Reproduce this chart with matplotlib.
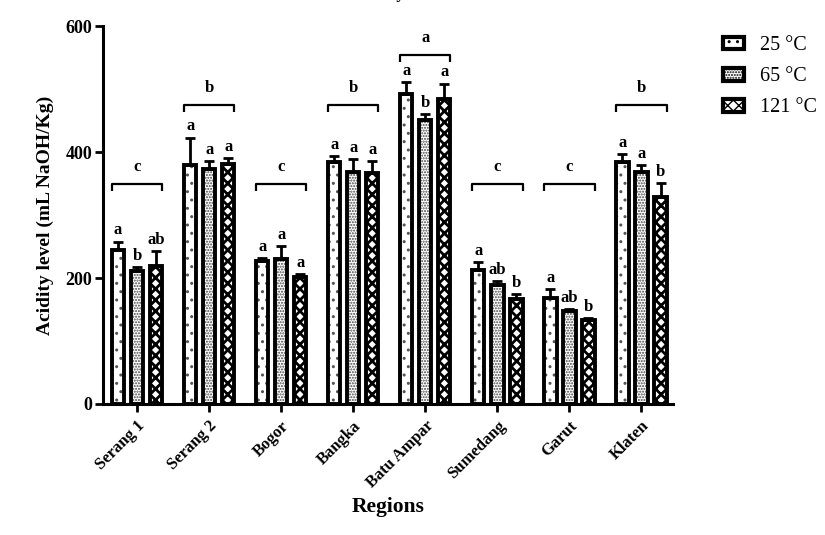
import numpy as np
import matplotlib.pyplot as plt
from matplotlib.patches import Patch

plt.rcParams['font.family'] = ['Liberation Serif', 'DejaVu Serif']
plt.rcParams['hatch.linewidth'] = 1.0

# Data
regions = ["Serang 1", "Serang 2", "Bogor", "Bangka", "Batu Ampar", "Sumedang", "Garut", "Klaten"]
temps = ["25 °C", "65 °C", "121 °C"]
mean_25 = [244, 380, 227, 384, 492, 213, 169, 385]
mean_65 = [211, 373, 230, 368, 451, 189, 147, 368]
mean_121 = [219, 381, 202, 367, 484, 167, 134, 328]
err_25 = [14, 43, 5, 10, 19, 13, 13, 12]
err_65 = [7, 13, 21, 21, 9, 6, 4, 12]
err_121 = [24, 10, 4, 19, 25, 8, 3, 23]
letters_25 = ["a", "a", "a", "a", "a", "a", "a", "a"]
letters_65 = ["b", "a", "a", "a", "b", "ab", "ab", "a"]
letters_121 = ["ab", "a", "a", "a", "a", "b", "b", "b"]
group_letters = ["c", "b", "c", "b", "a", "c", "c", "b"]
group_level = [350, 475, 350, 475, 555, 350, 350, 475]

means = [mean_25, mean_65, mean_121]
errs = [err_25, err_65, err_121]
letters = [letters_25, letters_65, letters_121]

# styles: (hatch, hatch colour, hatch linewidth)
styles = [("..", "#555555", 1.0), ("......", "#444444", 1.0), ("xxx", "black", 2.0)]

fig = plt.figure(figsize=(8.25, 5.35), dpi=100)
ax = fig.add_axes([0.125, 0.245, 0.691, 0.706])

x = np.arange(len(regions))
pitch = 0.264
width = 0.17

for k in range(3):
    pos = x + (k - 1) * pitch
    h, hc, hl = styles[k]
    plt.rcParams['hatch.linewidth'] = hl
    ax.bar(pos, means[k], width, color='white', edgecolor=hc, hatch=h, linewidth=0, zorder=2)
    plt.rcParams['hatch.linewidth'] = 1.0
    ax.bar(pos, means[k], width, fill=False, edgecolor='black', linewidth=2.8, zorder=3)
    ax.errorbar(pos, means[k], yerr=[np.zeros(len(x)), errs[k]], fmt='none',
                ecolor='black', elinewidth=2, capsize=3.5, capthick=2, zorder=4)
    for i in range(len(x)):
        ax.text(pos[i], means[k][i] + errs[k][i] + 5, letters[k][i], ha='center', va='bottom',
                fontsize=12, fontweight='bold')

# group brackets
for i in range(len(x)):
    left = x[i] - pitch - width / 2
    right = x[i] + pitch + width / 2
    y = group_level[i]
    ax.plot([left, left, right, right], [y - 12, y, y, y - 12], color='black', lw=1.6,
            solid_capstyle='butt', zorder=4)
    ax.text(x[i], y + 14, group_letters[i], ha='center', va='bottom', fontsize=12, fontweight='bold')

ax.set_xlim(-0.472, 7.44)
ax.set_ylim(0, 600)
ax.set_yticks([0, 200, 400, 600])
ax.set_xticks(x)
ax.set_xticklabels(regions, rotation=45, ha='right', rotation_mode='anchor', fontsize=12, fontweight='bold')
for lab in ax.get_yticklabels():
    lab.set_fontweight('bold')
    lab.set_fontsize(13)
ax.tick_params(axis='both', width=2, length=6, pad=2)
ax.tick_params(axis='x', pad=4)
ax.spines['top'].set_visible(False)
ax.spines['right'].set_visible(False)
ax.spines['left'].set_linewidth(2.2)
ax.spines['bottom'].set_linewidth(2.2)

ax.set_ylabel('Acidity level (mL NaOH/Kg)', fontsize=14, fontweight='bold', labelpad=8)
ax.set_xlabel('Regions', fontsize=15.5, fontweight='bold', labelpad=4)

handles = []
for k in range(3):
    plt.rcParams['hatch.linewidth'] = styles[k][2]
    handles.append(Patch(facecolor='white', edgecolor='black', hatch=styles[k][0], linewidth=3))
plt.rcParams['hatch.linewidth'] = 1.0
fig.legend(handles, temps, loc='upper left', bbox_to_anchor=(0.862, 0.955), frameon=False,
           fontsize=14.5, handlelength=1.05, handleheight=0.6, labelspacing=0.6, handletextpad=0.8,
           borderaxespad=0.2)

# title cut off at the top of the picture
fig.text(0.46, 1.003, 'Acidity', ha='center', va='baseline', fontsize=12, fontweight='bold')

fig.savefig('out.png', dpi=100)
